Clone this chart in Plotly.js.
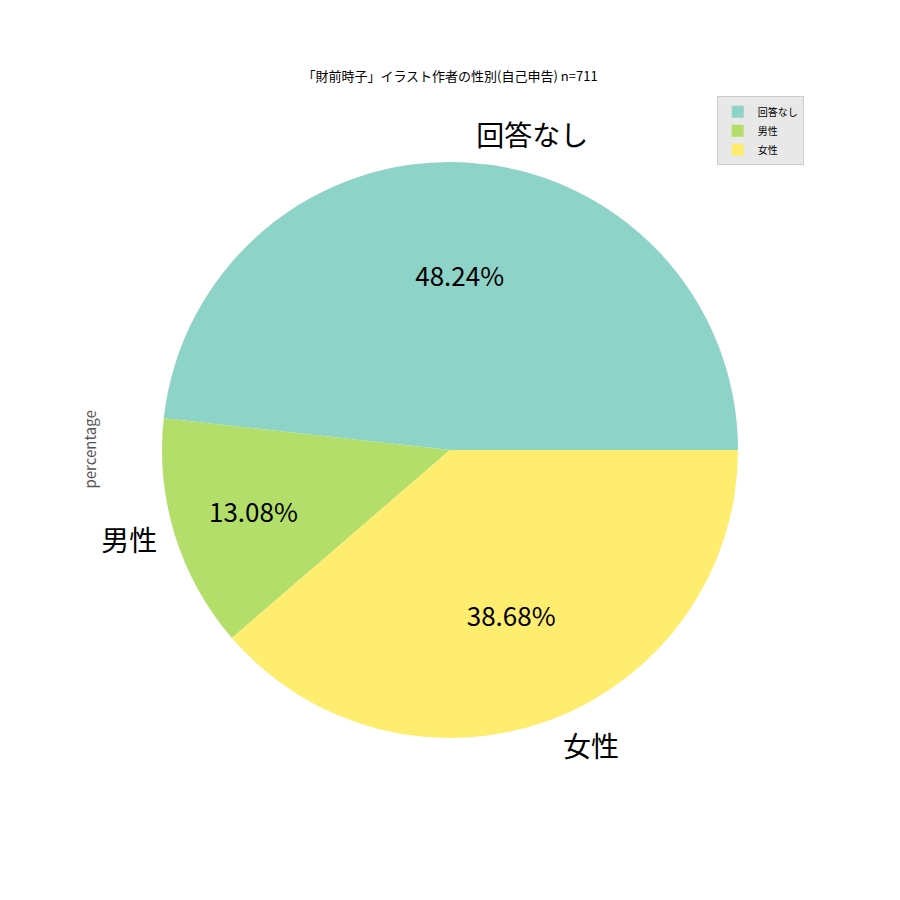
<!DOCTYPE html>
<html>
<head>
<meta charset="utf-8">
<script src="https://cdn.plot.ly/plotly-3.0.1.min.js"></script>
<style>
   body { margin: 0; background: #fff; }
   #chart { width: 900px; height: 900px; }
</style>
</head>
<body>
<div id="chart"></div>
<script>
// data
const labels = ['回答なし', '男性', '女性'];
const percents = [48.24, 13.08, 38.68];
const colors = ['#8dd3c7', '#b3de69', '#ffed6f'];

const FONT = '"Noto Sans CJK JP", "Noto Sans", sans-serif';
const domain = { x: [0.18, 0.82], y: [0.18, 0.82] };
// a slightly bigger invisible pie so the outer labels sit a bit further out
const labelDomain = { x: [0.171, 0.829], y: [0.171, 0.829] };
const clear = labels.map(() => 'rgba(0,0,0,0)');

// first slice starts at 3 o'clock and runs counterclockwise (like matplotlib);
// plotly anchors the end of the first slice at `rotation` in ccw mode
const rotation = 90 - percents[0] / percents.reduce((a, b) => a + b, 0) * 360;

const base = {
   type: 'pie',
   labels: labels,
   values: percents,
   sort: false,
   direction: 'counterclockwise',
   rotation: rotation,
   domain: domain,
   automargin: false,
};

// coloured slices
const slices = {
   ...base,
   marker: { colors: colors, line: { width: 0 } },
   textinfo: 'none',
   hoverinfo: 'label+percent',
};

// transparent ring, only to push the percentages out to ~0.6 r
const pctText = {
   ...base,
   hole: 0.22,
   marker: { colors: clear, line: { width: 0 } },
   texttemplate: '%{value:.2f}%',
   textposition: 'inside',
   insidetextorientation: 'horizontal',
   textfont: { family: FONT, size: 26, color: '#000' },
   showlegend: false,
   hoverinfo: 'skip',
};

// transparent copy, only for the outer category labels
const outerLabels = {
   ...base,
   domain: labelDomain,
   marker: { colors: clear, line: { width: 0 } },
   textinfo: 'label',
   textposition: 'outside',
   textfont: { family: FONT, size: 28, color: '#000' },
   showlegend: false,
   hoverinfo: 'skip',
};

const layout = {
   width: 900,
   height: 900,
   margin: { t: 0, b: 0, l: 0, r: 0 },
   paper_bgcolor: '#fff',
   font: { family: FONT },
   title: {
      text: '「財前時子」イラスト作者の性別(自己申告) n=711',
      font: { family: FONT, size: 13, color: '#000' },
      x: 0.5, xanchor: 'center',
      y: 1 - 76 / 900, yanchor: 'middle',
   },
   showlegend: true,
   legend: {
      x: 0.893, xanchor: 'right',
      y: 0.893, yanchor: 'top',
      bgcolor: '#e8e8e8',
      bordercolor: '#cccccc',
      borderwidth: 1,
      font: { family: FONT, size: 10, color: '#000' },
      traceorder: 'normal',
      itemwidth: 30,
   },
   annotations: [{
      text: 'percentage',
      textangle: -90,
      xref: 'paper', yref: 'paper',
      x: 76 / 900, y: 0.5,
      showarrow: false,
      font: { family: FONT, size: 15, color: '#555' },
   }],
};

Plotly.newPlot('chart', [slices, pctText, outerLabels], layout, { displayModeBar: false });
</script>
</body>
</html>
